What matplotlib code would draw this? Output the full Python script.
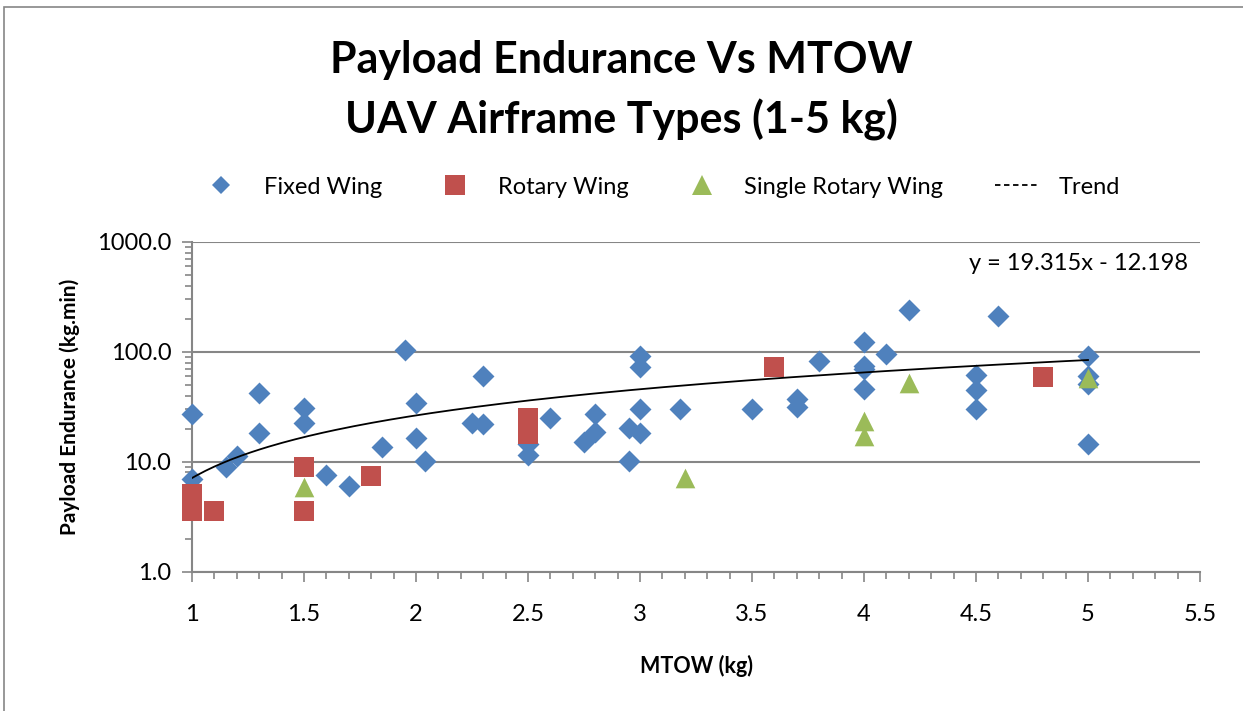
import matplotlib
matplotlib.use('Agg')
import matplotlib.pyplot as plt
import numpy as np
from matplotlib.lines import Line2D
from matplotlib.patches import Rectangle
from matplotlib.ticker import FixedLocator, NullFormatter, FuncFormatter, LogLocator

plt.rcParams['font.family'] = ['Lato', 'DejaVu Sans']

# data (MTOW kg, payload endurance kg.min)
fixed_x = [1.0, 1.0, 1.15, 1.2, 1.3, 1.3, 1.5, 1.5, 1.6, 1.7, 1.85, 1.95, 2.0, 2.0, 2.04,
           2.25, 2.3, 2.3, 2.5, 2.5, 2.6, 2.75, 2.8, 2.8, 2.95, 2.95, 3.0, 3.0, 3.0, 3.0,
           3.18, 3.5, 3.7, 3.7, 3.8, 4.0, 4.0, 4.0, 4.0, 4.1, 4.2, 4.5, 4.5, 4.5, 4.6,
           5.0, 5.0, 5.0, 5.0]
fixed_y = [27.5, 7.0, 9.0, 11.3, 42.5, 18.3, 31.0, 22.7, 7.6, 6.0, 13.7, 104, 34.5, 16.5, 10.2,
           22.7, 60.5, 21.9, 11.5, 14.5, 25.2, 15.0, 27.5, 18.5, 20.4, 10.2, 92, 72.5, 30.5, 18.3,
           30.5, 30.5, 37, 31.7, 82.5, 122, 75, 70, 45.5, 95.5, 240, 61.5, 45, 30.2, 212,
           92, 60.5, 51, 14.5]

rotary_x = [1.0, 1.0, 1.0, 1.1, 1.5, 1.5, 1.8, 2.5, 2.5, 2.5, 3.6, 4.8]
rotary_y = [5.1, 4.2, 3.6, 3.6, 9.0, 3.6, 7.5, 25.2, 21.0, 17.9, 73, 59.5]

single_x = [1.5, 3.2, 4.0, 4.0, 4.2, 5.0]
single_y = [5.9, 7.1, 23.7, 17.3, 52.5, 57.5]

trend_slope = 19.315
trend_intercept = -12.198
trend_range = [1.0, 5.0]

y_ticks = [1, 10, 100, 1000]
x_ticks = [1, 1.5, 2, 2.5, 3, 3.5, 4, 4.5, 5, 5.5]

BLUE = '#4F81BD'
RED = '#C0504D'
GREEN = '#9BBB59'
GRID = '#868686'

W, H = 1243, 711
fig = plt.figure(figsize=(W / 100, H / 100), dpi=100)
ax = fig.add_axes([192 / W, 1 - 571.7 / H, (1200 - 192) / W, (571.7 - 242) / H])

# outer chart frame (cut off at right and bottom)
fig.patches.append(Rectangle((4 / W, -0.05), 1.2, 1 - 7 / H + 0.05, transform=fig.transFigure,
                             fill=False, edgecolor=GRID, lw=1.2))

tx = np.linspace(trend_range[0], trend_range[1], 200)
ax.plot(tx, trend_slope * tx + trend_intercept, color='black', lw=1.3, zorder=4)

ax.scatter(fixed_x, fixed_y, marker='D', s=125, color=BLUE, zorder=3, linewidths=0, clip_on=False)
ax.scatter(rotary_x, rotary_y, marker='s', s=205, color=RED, zorder=3, linewidths=0, clip_on=False)
ax.scatter(single_x, single_y, marker='^', s=200, color=GREEN, zorder=3, linewidths=0, clip_on=False)

ax.set_yscale('log')
ax.set_ylim(1, 1000)
ax.set_xlim(1, 5.5)
ax.yaxis.set_major_locator(FixedLocator(y_ticks))
ax.yaxis.set_major_formatter(FuncFormatter(lambda v, p: f'{v:.1f}'))
ax.yaxis.set_minor_locator(LogLocator(base=10, subs=np.arange(2, 10)))
ax.yaxis.set_minor_formatter(NullFormatter())
ax.xaxis.set_major_locator(FixedLocator(x_ticks))
ax.xaxis.set_major_formatter(FuncFormatter(lambda v, p: f'{v:g}'))
ax.xaxis.set_minor_locator(FixedLocator(np.arange(1, 5.55, 0.1)))

ax.grid(axis='y', which='major', color=GRID, lw=1.5)
ax.set_axisbelow(True)
for side in ['top', 'right']:
    ax.spines[side].set_visible(False)
for side in ['left', 'bottom']:
    ax.spines[side].set_color(GRID)
    ax.spines[side].set_linewidth(1.5)

ax.tick_params(axis='both', which='major', color=GRID, width=1.2, length=7, labelsize=17, pad=8)
ax.tick_params(axis='both', which='minor', color=GRID, width=1.2, length=5)
ax.tick_params(axis='x', which='major', pad=16)

ax.set_xlabel('MTOW (kg)', fontsize=15.5, fontweight='bold', labelpad=22)
ax.set_ylabel('Payload Endurance (kg.min)', fontsize=15, fontweight='bold', labelpad=12)

ax.text(0.988, 0.935, 'y = 19.315x - 12.198', transform=ax.transAxes, ha='right', va='center',
        fontsize=17)

fig.text(0.5, 1 - 60 / H, 'Payload Endurance Vs MTOW', ha='center', va='center',
         fontsize=31, fontweight='bold')
fig.text(0.5, 1 - 120 / H, 'UAV Airframe Types (1-5 kg)', ha='center', va='center',
         fontsize=31, fontweight='bold')

handles = [
    Line2D([], [], marker='D', color=BLUE, ls='none', markersize=9, markeredgewidth=0),
    Line2D([], [], marker='s', color=RED, ls='none', markersize=14, markeredgewidth=0),
    Line2D([], [], marker='^', color=GREEN, ls='none', markersize=14, markeredgewidth=0),
    Line2D([], [], color='black', ls=(0, (3, 2)), lw=1.3),
]
labels = ['Fixed Wing', 'Rotary Wing', 'Single Rotary Wing', 'Trend']
fig.legend(handles, labels, loc='center', bbox_to_anchor=(660 / W, 1 - 187 / H), ncol=4,
           frameon=False, fontsize=17, columnspacing=2.2, handletextpad=0.9, handlelength=1.8)

fig.savefig('out.png', dpi=100)
